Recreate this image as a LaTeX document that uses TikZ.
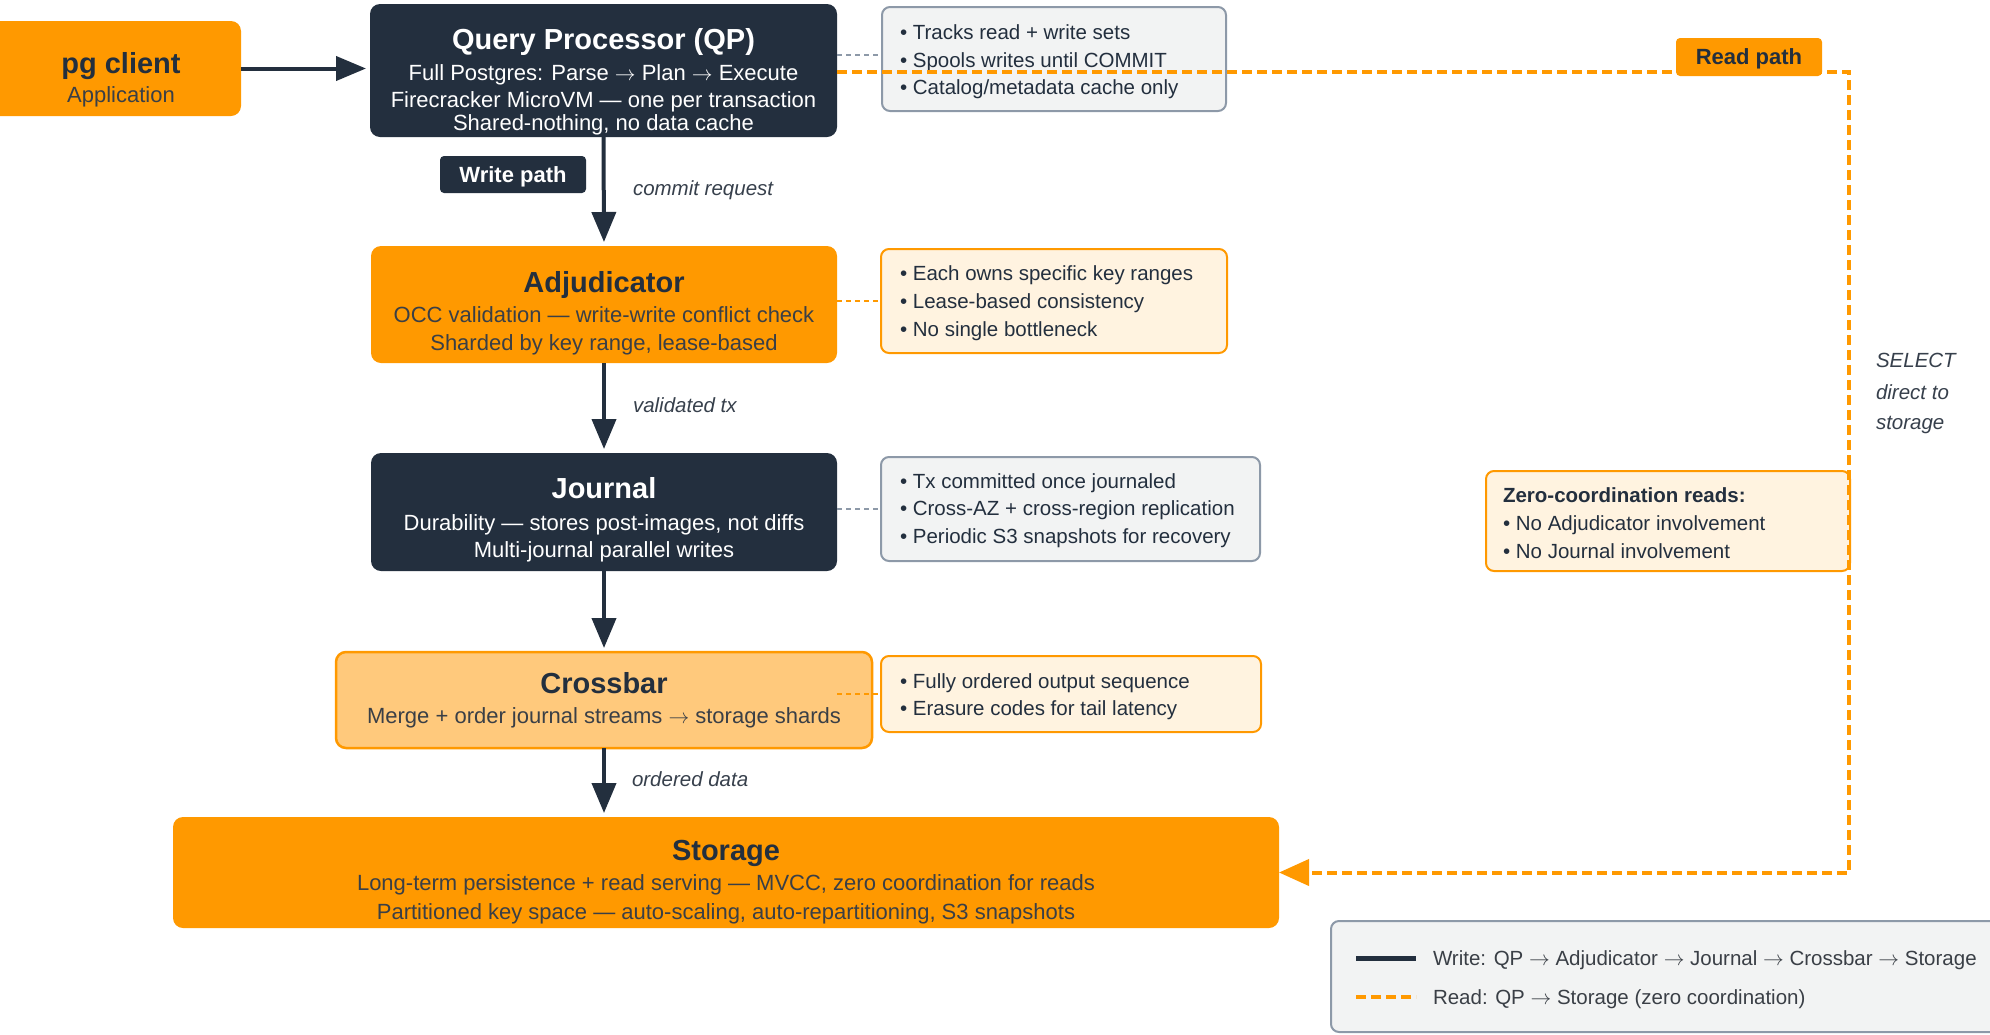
\documentclass[tikz,border=0pt]{standalone}
\usepackage{fontspec}
\setmainfont{Liberation Sans}
\newcommand{\rarr}{\ensuremath{\rightarrow}}
\usetikzlibrary{arrows.meta}
\definecolor{navy}{HTML}{232F3E}
\definecolor{awsorange}{HTML}{FF9900}
\definecolor{cbfill}{HTML}{FFC97C}
\definecolor{notecream}{HTML}{FFF3E0}
\definecolor{notegray}{HTML}{F2F3F3}
\definecolor{bordergray}{HTML}{8D99A8}
\definecolor{subdark}{HTML}{3A3F46}
\definecolor{lbltext}{HTML}{37404C}
\tikzset{
  base/.style={inner sep=0pt, outer sep=0pt},
  box/.style={base, rounded corners=10pt},
  darkbox/.style={box, fill=navy},
  orangebox/.style={box, fill=awsorange},
  cbbox/.style={box, fill=cbfill, draw=awsorange, line width=2.5pt},
  creamnote/.style={box, rounded corners=8pt, fill=notecream, draw=awsorange, line width=2pt},
  graynote/.style={box, rounded corners=8pt, fill=notegray, draw=bordergray, line width=2pt},
  tag/.style={base, rounded corners=4pt},
  ttl/.style={base, font=\fontsize{29}{34}\selectfont\bfseries, text height=20.8pt, text depth=0pt},
  sub/.style={base, font=\fontsize{22}{26}\selectfont, text height=15.8pt, text depth=0pt},
  note/.style={base, anchor=west, text=navy, font=\fontsize{20.5}{24}\selectfont, text height=14.7pt, text depth=0pt},
  lbl/.style={base, anchor=west, text=lbltext, font=\fontsize{20.5}{24}\selectfont\itshape, text height=14.7pt, text depth=0pt},
  tagtext/.style={base, font=\fontsize{22}{26}\selectfont\bfseries, text height=15.8pt, text depth=0pt},
  writearrow/.style={draw=navy, line width=4pt, -{Triangle[length=30pt,width=24pt]}, shorten >=4pt},
  readline/.style={draw=awsorange, line width=4pt, dash pattern=on 10pt off 5pt},
  readarrow/.style={readline, -{Triangle[length=30pt,width=26pt]}},
  graylink/.style={draw=bordergray, line width=1.5pt, dash pattern=on 5pt off 4pt},
  orangelink/.style={draw=awsorange, line width=1.8pt, dash pattern=on 5pt off 4pt},
}
\begin{document}
\begin{tikzpicture}[x=1pt,y=-1pt]
\clip (0,0) rectangle (1990,1034);
\fill[white] (0,0) rectangle (1990,1034);

% ---------- main boxes ----------
\node[orangebox, minimum width=251pt, minimum height=95pt] (pg) at (115.5,68.5) {};
\node[ttl, text=navy] (pgt) at (121,63) {pg client};
\node[sub, text=subdark] (pg1) at (121,95) {Application};

\node[darkbox, minimum width=467pt, minimum height=133pt] (qp) at (603.5,70.5) {};
\node[ttl, text=white] (qpt) at (603.5,39) {Query Processor (QP)};
\node[sub, text=white] (qp1) at (603.5,73) {Full Postgres: Parse \rarr{} Plan \rarr{} Execute};
\node[sub, text=white] (qp2) at (603.5,100) {Firecracker MicroVM — one per transaction};
\node[sub, text=white] (qp3) at (603.5,123) {Shared-nothing, no data cache};

\node[orangebox, minimum width=466pt, minimum height=117pt] (adj) at (604,304.5) {};
\node[ttl, text=navy] (adjt) at (604,282) {Adjudicator};
\node[sub, text=subdark] (adj1) at (604,315) {OCC validation — write-write conflict check};
\node[sub, text=subdark] (adj2) at (604,343) {Sharded by key range, lease-based};

\node[darkbox, minimum width=466pt, minimum height=118pt] (jr) at (604,512) {};
\node[ttl, text=white] (jrt) at (604,488) {Journal};
\node[sub, text=white] (jr1) at (604,523) {Durability — stores post-images, not diffs};
\node[sub, text=white] (jr2) at (604,550) {Multi-journal parallel writes};

\node[cbbox, minimum width=536pt, minimum height=96pt] (cb) at (604,700) {};
\node[ttl, text=navy] (cbt) at (604,683) {Crossbar};
\node[sub, text=subdark] (cb1) at (604,716) {Merge + order journal streams \rarr{} storage shards};

\node[orangebox, minimum width=1106pt, minimum height=111pt] (st) at (726,872.5) {};
\node[ttl, text=navy] (stt) at (726,850) {Storage};
\node[sub, text=subdark] (st1) at (726,883) {Long-term persistence + read serving — MVCC, zero coordination for reads};
\node[sub, text=subdark] (st2) at (726,912) {Partitioned key space — auto-scaling, auto-repartitioning, S3 snapshots};

% ---------- side notes ----------
\node[graynote, minimum width=344pt, minimum height=104pt] (qpn) at (1054,59) {};
\node[note] (qpn1) at (900,32) {• Tracks read + write sets};
\node[note] (qpn2) at (900,60) {• Spools writes until COMMIT};
\node[note] (qpn3) at (900,87) {• Catalog/metadata cache only};

\node[creamnote, minimum width=346pt, minimum height=104pt] (adjn) at (1054,301) {};
\node[note] (adjn1) at (900,273) {• Each owns specific key ranges};
\node[note] (adjn2) at (900,301) {• Lease-based consistency};
\node[note] (adjn3) at (900,329) {• No single bottleneck};

\node[graynote, minimum width=379pt, minimum height=104pt] (jn) at (1070.5,509) {};
\node[note] (jn1) at (900,481) {• Tx committed once journaled};
\node[note] (jn2) at (900,508) {• Cross-AZ + cross-region replication};
\node[note] (jn3) at (900,536) {• Periodic S3 snapshots for recovery};

\node[creamnote, minimum width=380pt, minimum height=76pt] (cn) at (1071,694) {};
\node[note] (cn1) at (900,681) {• Fully ordered output sequence};
\node[note] (cn2) at (900,708) {• Erasure codes for tail latency};

\node[creamnote, minimum width=364pt, minimum height=100pt] (zr) at (1668,521) {};
\node[note, font=\fontsize{20.5}{24}\selectfont\bfseries] (zrt) at (1503,495) {Zero-coordination reads:};
\node[note] (zr1) at (1503,523) {• No Adjudicator involvement};
\node[note] (zr2) at (1503,551) {• No Journal involvement};

% ---------- note connectors ----------
\draw[graylink] (qp.east |- 0,55) -- (qpn.west |- 0,55);
\draw[orangelink] (adj.east |- adjn.west) -- (adjn.west);
\draw[graylink] (jr.east |- jn.west) -- (jn.west);
\draw[orangelink] (jr.east |- cn.west) -- (cn.west);

% ---------- write path ----------
\draw[writearrow] (pg.east) -- (pg.east -| qp.west);
\draw[writearrow] (qp.south) -- (adj.north);
\draw[writearrow] (adj.south) -- (jr.north);
\draw[writearrow] (jr.south) -- (cb.north);
\draw[writearrow] (cb.south) -- (cb.south |- st.north);

\node[tag, fill=navy, minimum width=146pt, minimum height=37pt] (wp) at (513,174.5) {};
\node[tagtext, text=white] (wpt) at (513,174.5) {Write path};
\node[lbl] (l1) at (633,188) {commit request};
\node[lbl] (l2) at (633,405) {validated tx};
\node[lbl] (l3) at (632,779) {ordered data};

% ---------- read path ----------
\coordinate (rc) at (1849,72);
\draw[readarrow] (qp.east |- rc) -- (rc) |- (st.east);
\node[tag, fill=awsorange, minimum width=146pt, minimum height=38pt] (rp) at (1749,57) {};
\node[tagtext, text=navy] (rpt) at (1749,57) {Read path};
\node[lbl] (s1) at (1876,360) {SELECT};
\node[lbl] (s2) at (1876,392) {direct to};
\node[lbl] (s3) at (1876,422) {storage};

% ---------- legend ----------
\node[graynote, minimum width=689pt, minimum height=111pt] (lg) at (1675.5,976.5) {};
\coordinate (lw1) at (1356,958);
\coordinate (lw2) at (1416,958);
\coordinate (lr1) at (1356,997);
\coordinate (lr2) at (1416,997);
\draw[navy, line width=5pt] (lw1) -- (lw2);
\draw[readline] (lr1) -- (lr2);
\node[note, text=subdark] (lgw) at (1433,958) {Write: QP \rarr{} Adjudicator \rarr{} Journal \rarr{} Crossbar \rarr{} Storage};
\node[note, text=subdark] (lgr) at (1433,997) {Read: QP \rarr{} Storage (zero coordination)};
\end{tikzpicture}
\end{document}
